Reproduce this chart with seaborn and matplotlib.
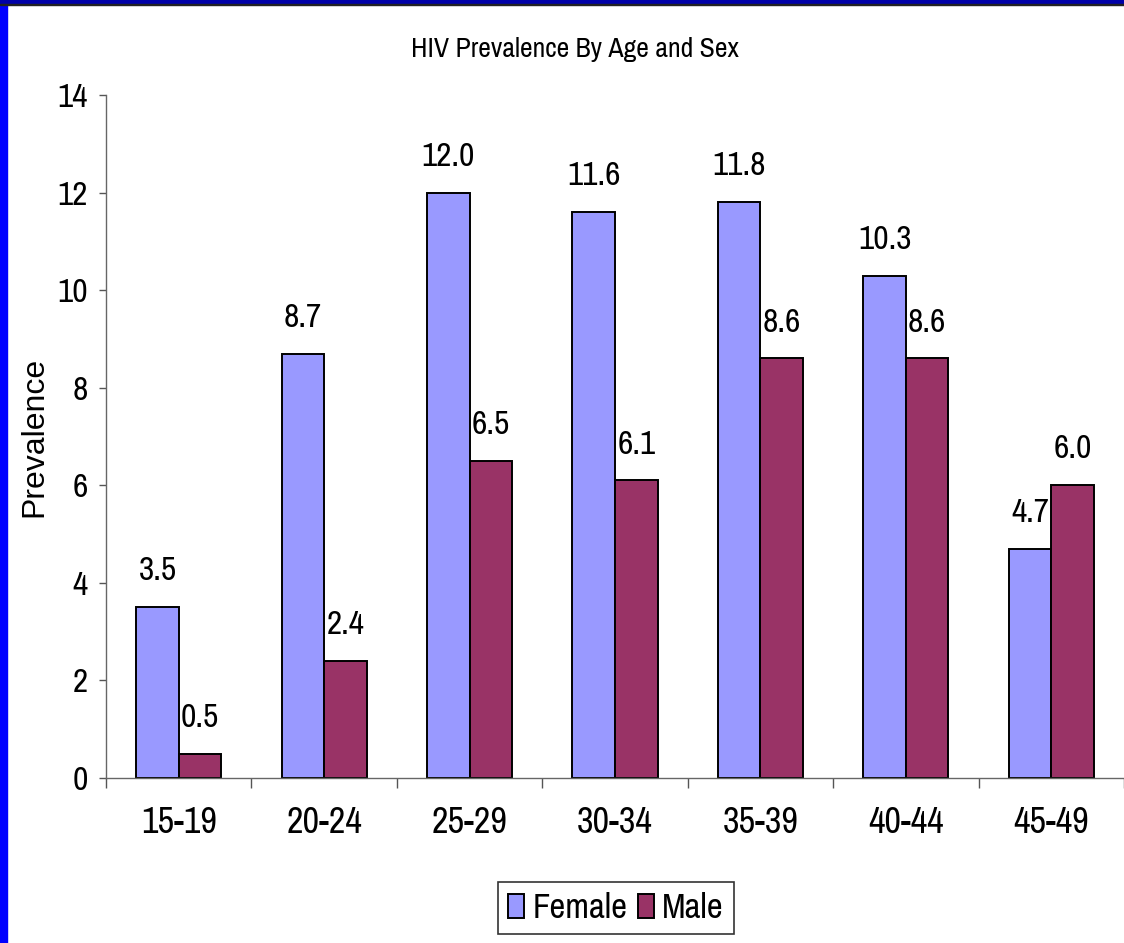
import pandas as pd
import matplotlib
matplotlib.use("Agg")
import matplotlib.pyplot as plt
import seaborn as sns
from matplotlib.patches import Rectangle
from matplotlib.ticker import FixedLocator

# Data
age_groups = ["15-19", "20-24", "25-29", "30-34", "35-39", "40-44", "45-49"]
female = [3.5, 8.7, 12.0, 11.6, 11.8, 10.3, 4.7]
male = [0.5, 2.4, 6.5, 6.1, 8.6, 8.6, 6.0]

df = pd.DataFrame({
    "Age": age_groups * 2,
    "Sex": ["Female"] * len(age_groups) + ["Male"] * len(age_groups),
    "Prevalence": female + male,
})

sns.set_theme(style="white")
plt.rcParams["font.family"] = ["Archivo Narrow", "Liberation Sans", "DejaVu Sans"]
plt.rcParams["text.color"] = "black"
plt.rcParams["xtick.color"] = "black"
plt.rcParams["ytick.color"] = "black"
plt.rcParams["axes.labelcolor"] = "black"

colors = {"Female": "#9999FF", "Male": "#993366"}

fig = plt.figure(figsize=(11.24, 9.43), dpi=100)
ax = fig.add_axes([106 / 1124, 1 - 778 / 943, 1 - 106 / 1124, (778 - 95) / 943])

sns.barplot(data=df, x="Age", y="Prevalence", hue="Sex", palette=colors,
            saturation=1, width=0.585, edgecolor="black", linewidth=1.4,
            ax=ax, legend=False)

# value labels above bars
for cont in ax.containers:
    ax.bar_label(cont, fmt="%.1f", padding=15, fontsize=24)

ax.set_ylim(0, 14)
ax.set_xlim(-0.5, len(age_groups) - 0.5)
ax.set_yticks(range(0, 15, 2))
ax.tick_params(axis="y", labelsize=24, length=5, width=1, color="#555555",
               left=True, pad=8)
ax.tick_params(axis="x", which="major", labelsize=26, length=0, pad=20)
ax.xaxis.set_minor_locator(FixedLocator([i - 0.5 for i in range(len(age_groups) + 1)]))
ax.tick_params(axis="x", which="minor", length=7, width=1, color="#555555", bottom=True)
ax.set_xlabel("")
ax.set_ylabel("Prevalence", fontsize=23, family=["Liberation Sans", "DejaVu Sans"])
ax.yaxis.set_label_coords(-57 / 1018, 0.5)

for side in ["top", "right"]:
    ax.spines[side].set_visible(False)
for side in ["left", "bottom"]:
    ax.spines[side].set_color("#666666")
    ax.spines[side].set_linewidth(1)

fig.text(575 / 1124, 1 - 50 / 943, "HIV Prevalence By Age and Sex",
         ha="center", va="center", fontsize=20)

handles = [ax.containers[0].patches[0], ax.containers[1].patches[0]]
leg = fig.legend(handles, ["Female", "Male"], loc="center",
                 bbox_to_anchor=(616 / 1124, 1 - 908 / 943), ncol=2,
                 fontsize=25, frameon=True, fancybox=False, shadow=False,
                 handlelength=0.45, handleheight=0.7, handletextpad=0.25,
                 columnspacing=0.3, borderpad=0.3, borderaxespad=0)
leg.get_frame().set_edgecolor("black")
leg.get_frame().set_linewidth(1.2)

# blue slide border
fig.patches.append(Rectangle((0, 0), 7 / 1124, 1, transform=fig.transFigure,
                             color="#0000FF", zorder=10))
fig.patches.append(Rectangle((0, 1 - 4 / 943), 1, 4 / 943, transform=fig.transFigure,
                             color="#0000A8", zorder=10))
fig.patches.append(Rectangle((0, 1 - 5 / 943), 1, 1 / 943, transform=fig.transFigure,
                             color="#222222", zorder=10))

fig.savefig("out.png", dpi=100)
